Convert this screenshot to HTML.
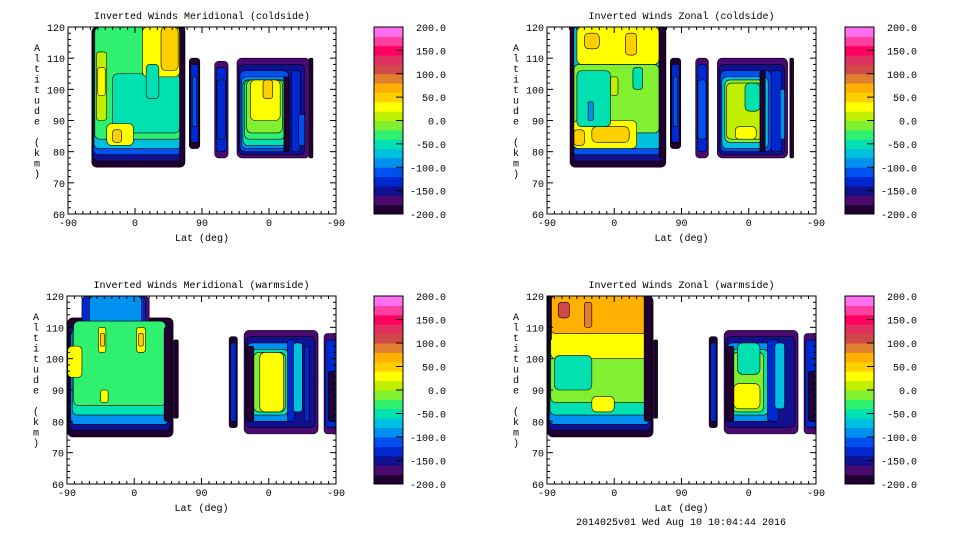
<!DOCTYPE html>
<html><head><meta charset="utf-8"><style>
html,body{margin:0;padding:0;background:#fff;}
svg{display:block;font-family:"Liberation Mono",monospace;font-size:10px;}
</style></head><body>
<svg id="chart" width="960" height="540" xmlns="http://www.w3.org/2000/svg">
<text x="681" y="525" text-anchor="middle">2014025v01 Wed Aug 10 10:04:44 2016</text>
</svg>
<script>
// color levels (bottom to top, -200..200 step 20)
const levelColors=["#200030","#4a0a70","#101090","#0028d0","#0050f0","#0090f0","#00c0e0","#00e0b0","#30f070","#80f030","#c0f000","#ffff00","#ffd000","#ffb000","#e08030","#d04848","#e03060","#ff0060","#ff40a0","#ff70f0"];
const cbTicks=[200,150,100,50,0,-50,-100,-150,-200];
const xTickLabels=["-90","0","90","0","-90"];
const xTickPos=[0,90,180,270,360];
const yTicks=[120,110,100,90,80,70,60];
// patches: [x0,x1,alt0,alt1,value]
const patchesTL=[[32,157,75,120,-190],[33,156,77,120,-150],[34,154,79,120,-110],[35,153,81,120,-70],[36,152,84,120,-30],[60,150,86,105,-50],[38,52,90,112,10],[40,50,98,107,30],[100,150,104,120,20],[125,148,106,120,50],[52,88,82,89,20],[60,72,83,87,50],[105,122,97,108,-60],[150,157,76,120,-200],
[163,177,81,110,-190],[165,175,83,108,-140],[167,173,88,104,-120],
[197,215,78,109,-180],[199,213,80,107,-140],[200,212,84,103,-130],
[227,325,78,110,-180],[229,318,79,108,-150],[231,296,80,106,-120],[233,294,81,104,-90],[235,293,82,103,-60],[237,292,84,103,-30],[240,288,86,103,-10],[245,285,90,103,20],[262,275,97,103,45],[290,297,80,104,-200],[300,312,80,106,-140],[310,318,82,92,-110],[324,329,78,110,-200]];
const patchesTR=[[31,159,75,120,-190],[32,158,77,120,-150],[33,156,79,120,-110],[34,154,81,120,-70],[36,150,86,108,-20],[40,150,108,120,20],[50,70,113,118,50],[105,120,111,118,50],[35,120,81,90,20],[36,50,82,87,40],[60,110,83,88,50],[40,85,88,106,-60],[55,62,90,96,-90],[115,128,100,107,-60],[85,95,98,104,10],[31,36,76,120,-200],[150,159,78,120,-200],
[165,179,81,110,-190],[167,177,83,108,-140],[169,175,88,104,-110],
[199,216,78,110,-180],[201,214,80,108,-140],[202,213,84,103,-120],
[228,322,78,110,-180],[230,318,79,108,-150],[232,300,80,106,-110],[234,296,81,104,-70],[238,292,83,103,-20],[240,290,84,102,0],[252,280,84,88,30],[265,285,93,102,-60],[285,292,80,106,-200],[300,314,80,106,-130],[312,318,84,100,-90],[325,330,78,110,-200]];
const patchesBL=[[1,142,75,113,-190],[22,110,100,120,-180],[3,138,77,111,-150],[20,105,103,120,-140],[5,136,79,109,-100],[30,100,106,120,-100],[7,134,82,110,-60],[9,132,85,112,-30],[1,20,94,104,25],[42,52,102,110,30],[45,50,104,108,50],[93,105,102,110,30],[96,102,104,108,55],[45,55,86,90,25],[130,140,80,110,-200],[143,149,81,106,-200],
[217,228,78,107,-190],[219,226,80,105,-140],
[237,336,76,109,-180],[239,332,78,107,-150],[241,300,80,105,-100],[244,296,82,103,-50],[250,292,83,102,-10],[258,290,83,102,25],[240,250,80,104,-200],[295,305,80,106,-140],[303,315,83,105,-70],[318,324,80,104,-140],
[344,360,76,108,-180],[346,360,78,106,-130],[350,358,80,96,-200]];
const patchesBR=[[1,142,75,120,-190],[2,140,77,120,-150],[3,138,79,120,-100],[4,136,82,120,-50],[5,135,86,103,-20],[5,135,100,110,20],[5,135,108,120,60],[15,30,113,118,100],[50,60,110,118,80],[10,60,90,101,-50],[60,90,83,88,30],[1,6,106,120,-200],[130,140,80,120,-200],[143,148,81,106,-200],
[217,228,78,107,-190],[219,226,80,105,-140],
[237,336,76,109,-180],[239,332,78,107,-150],[241,300,80,105,-100],[244,296,82,103,-50],[248,290,83,102,-10],[250,285,84,92,25],[255,285,95,105,-60],[240,250,80,104,-200],[295,310,80,106,-140],[305,318,84,105,-70],
[344,360,76,108,-180],[346,360,78,106,-130],[350,358,80,96,-200]];
const panels=[
 {id:"meridional-coldside",title:"Inverted Winds Meridional (coldside)",x:68,y:27,w:268,h:187,cbx:374,patches:patchesTL},
 {id:"zonal-coldside",title:"Inverted Winds Zonal (coldside)",x:547,y:27,w:269,h:187,cbx:845,patches:patchesTR},
 {id:"meridional-warmside",title:"Inverted Winds Meridional (warmside)",x:67,y:296,w:269,h:188,cbx:374,patches:patchesBL},
 {id:"zonal-warmside",title:"Inverted Winds Zonal (warmside)",x:547,y:296,w:269,h:188,cbx:845,patches:patchesBR}];
const NS="http://www.w3.org/2000/svg";
const svg=document.getElementById("chart");
function mk(tag,attrs,parent){const e=document.createElementNS(NS,tag);for(const k in attrs)e.setAttribute(k,attrs[k]);(parent||svg).appendChild(e);return e;}
function colorFor(v){let i=Math.floor((v+200)/20);i=Math.max(0,Math.min(19,i));return levelColors[i];}
panels.forEach(p=>{
 const g=mk("g",{});
 
 
 const sx=u=>p.x+u/360*p.w;
 const sy=a=>p.y+(120-a)/60*p.h;
 const clip=mk("clipPath",{id:"clip-"+p.id},g);
 mk("rect",{x:p.x,y:p.y,width:p.w,height:p.h},clip);
 const marks=mk("g",{"clip-path":"url(#clip-"+p.id+")"},g);
 
 
 p.patches.forEach(d=>{
  const x0=sx(d[0]),x1=sx(d[1]),y0=sy(d[3]),y1=sy(d[2]);
  const w=x1-x0,h=y1-y0,r=Math.min(Math.min(w,h)*0.3,5);
  const rc=mk("rect",{x:x0,y:y0,width:w,height:h,rx:r,ry:r,fill:colorFor(d[4]),stroke:"#000","stroke-width":0.6},marks);
  
  
 });
 const box=mk("rect",{x:p.x,y:p.y,width:p.w,height:p.h,fill:"none",stroke:"#000","stroke-width":1},g);
 
 
 for(let u=0;u<=360;u+=10){const X=sx(u);const L=(u%90===0)?6:3;
  mk("line",{x1:X,x2:X,y1:p.y+p.h,y2:p.y+p.h-L,stroke:"#000"},g);
  mk("line",{x1:X,x2:X,y1:p.y,y2:p.y+L,stroke:"#000"},g);}
 for(let a=60;a<=120;a+=2){const Y=sy(a);const L=(a%10===0)?6:3;
  mk("line",{x1:p.x,x2:p.x+L,y1:Y,y2:Y,stroke:"#000"},g);
  mk("line",{x1:p.x+p.w,x2:p.x+p.w-L,y1:Y,y2:Y,stroke:"#000"},g);}
 xTickLabels.forEach((t,i)=>{const tx=mk("text",{x:sx(xTickPos[i]),y:p.y+p.h+12,"text-anchor":"middle"},g);tx.textContent=t;
  
  });
 yTicks.forEach(a=>{const tx=mk("text",{x:p.x-3,y:sy(a)+4,"text-anchor":"end"},g);tx.textContent=a;
  
  });
 const ttl=mk("text",{x:p.x+p.w/2,y:p.y-8,"text-anchor":"middle"},g);ttl.textContent=p.title;
 
 
 const xl=mk("text",{x:p.x+p.w/2,y:p.y+p.h+27,"text-anchor":"middle"},g);xl.textContent="Lat (deg)";
 
 
 const yl=mk("text",{x:p.x-31,y:p.y+24,"text-anchor":"middle"},g);
 
 
 "Altitude (km)".split("").forEach((c,i)=>{const ts=mk("tspan",{x:p.x-31,y:p.y+24+i*10.5},yl);ts.textContent=c===" "?"\u00a0":c;});
 const cb=mk("g",{},g);
 
 
 const ch=p.h/20;
 levelColors.forEach((c,i)=>{mk("rect",{x:p.cbx,y:p.y+p.h-(i+1)*ch,width:29,height:ch+0.5,fill:c},cb);});
 mk("rect",{x:p.cbx,y:p.y,width:29,height:p.h,fill:"none",stroke:"#000"},cb);
 cbTicks.forEach(v=>{const Y=p.y+(200-v)/400*p.h;
  mk("line",{x1:p.cbx+22,x2:p.cbx+29,y1:Y,y2:Y,stroke:"#000"},cb);
  const tx=mk("text",{x:p.cbx+72,y:Y+4,"text-anchor":"end"},cb);tx.textContent=v.toFixed(1);
  
  });
});
</script>
</body></html>
